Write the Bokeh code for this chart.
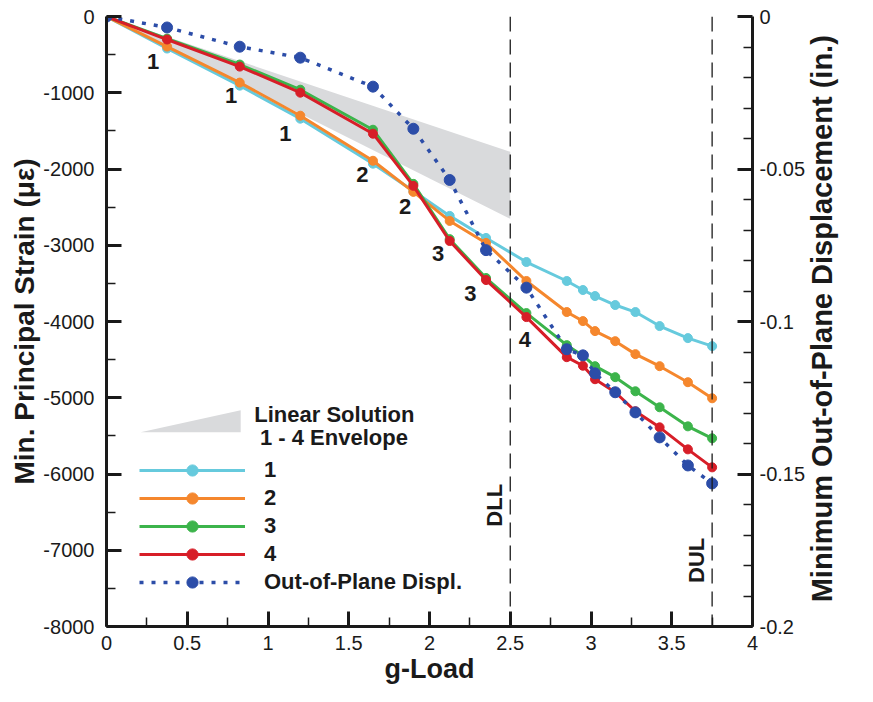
import numpy as np
from bokeh.plotting import figure
from bokeh.models import (Range1d, LinearAxis, FixedTicker, Span, Label, Legend,
                          LegendItem, ColumnDataSource)
from bokeh.embed import file_html
from bokeh.resources import INLINE
from bokeh.core.properties import value

# ---------------- data ----------------
g_load = [0, 0.375, 0.825, 1.2, 1.65, 1.9, 2.125, 2.35, 2.6, 2.85, 2.95, 3.025,
          3.15, 3.275, 3.425, 3.6, 3.75]
strain_1 = [0, -420, -907, -1340, -1930, -2290, -2615, -2904, -3220, -3469, -3587,
            -3666, -3784, -3876, -4060, -4218, -4323]
strain_2 = [0, -394, -867, -1301, -1892, -2300, -2681, -2970, -3469, -3876, -3995,
            -4126, -4258, -4428, -4586, -4796, -5007]
strain_3 = [0, -290, -630, -960, -1485, -2195, -2920, -3430, -3890, -4310, -4449,
            -4586, -4730, -4915, -5125, -5375, -5532]
strain_4 = [0, -302, -657, -999, -1537, -2221, -2944, -3456, -3942, -4468, -4580,
            -4757, -4928, -5177, -5388, -5677, -5913]
disp = [0, -0.0036, -0.0099, -0.0135, -0.0230, -0.0368, -0.0536, -0.0766, -0.0889,
        -0.1091, -0.1111, -0.1170, -0.1232, -0.1298, -0.1380, -0.1472, -0.1531]

env_g = [0, 2.5, 2.5]
env_strain = [0, -1774, -2654]

limit_g = [2.5, 3.75]
limit_names = ["DLL", "DUL"]
limit_label_strain = [-6410, -7133]

series_names = ["1", "2", "3", "4", "Out-of-Plane Displ."]
series_colors = ["#66CADD", "#F5872D", "#3CB44B", "#D71E28", "#2C4DA8"]

zone_text = ["1", "1", "1", "2", "2", "3", "3", "4"]
zone_g = [0.289, 0.771, 1.108, 1.584, 1.849, 2.054, 2.253, 2.59]
zone_strain = [-591, -1038, -1537, -2076, -2496, -3113, -3639, -4230]

x_ticks = [0, 0.5, 1, 1.5, 2, 2.5, 3, 3.5, 4]
x_tick_labels = ["0", "0.5", "1", "1.5", "2", "2.5", "3", "3.5", "4"]
y_ticks = [0, -1000, -2000, -3000, -4000, -5000, -6000, -7000, -8000]
y_tick_labels = ["0", "-1000", "-2000", "-3000", "-4000", "-5000", "-6000", "-7000", "-8000"]
d_ticks = [0, -0.05, -0.1, -0.15, -0.2]
d_tick_labels = ["0", "-0.05", "-0.1", "-0.15", "-0.2"]

right_title = "Minimum Out-of-Plane Displacement (in.)"

FONT = "Liberation Sans"
INK = "#1a1a1a"

# ---------------- figure ----------------
p = figure(width=857, height=686, x_range=Range1d(0, 4), y_range=Range1d(-8000, 0),
           output_backend="svg", toolbar_location=None,
           min_border_left=106, min_border_right=84, min_border_top=16,
           min_border_bottom=60)
p.extra_y_ranges = {"disp": Range1d(-0.2, 0)}
p.grid.visible = False
p.outline_line_color = None
p.background_fill_color = "white"
p.border_fill_color = "white"

right_axis = LinearAxis(y_range_name="disp")
p.add_layout(right_axis, "right")

def style_axis(ax, ticks, labels, minor, title, title_size):
    ax.ticker = FixedTicker(ticks=ticks, minor_ticks=list(minor))
    ax.major_label_overrides = {t: l for t, l in zip(ticks, labels)}
    ax.axis_line_width = 3
    ax.axis_line_color = INK
    ax.major_tick_line_width = 3
    ax.major_tick_line_color = INK
    ax.minor_tick_line_width = 1.5
    ax.minor_tick_line_color = INK
    ax.major_tick_in = 15
    ax.major_tick_out = 0
    ax.minor_tick_in = 9
    ax.minor_tick_out = 0
    ax.major_label_text_font = FONT
    ax.major_label_text_font_size = "20px"
    ax.major_label_text_color = INK
    ax.axis_label = title
    ax.axis_label_text_font = FONT
    ax.axis_label_text_font_style = "bold"
    ax.axis_label_text_font_size = title_size
    ax.axis_label_text_color = INK

style_axis(p.xaxis[0], x_ticks, x_tick_labels, np.arange(0, 4.01, 0.25), "g-Load", "27px")
style_axis(p.yaxis[0], y_ticks, y_tick_labels, np.arange(-8000, 1, 500),
           "Min. Principal Strain (με)", "28px")
# the right title reads bottom-to-top: anchored at the axis start and padded
style_axis(right_axis, d_ticks, d_tick_labels, np.arange(-0.2, 0.001, 0.01),
           "\u00a0" * 3 + right_title, "29px")
right_axis.axis_label_orientation = np.pi / 2
right_axis.axis_label_align = "start"
p.xaxis[0].major_label_standoff = 9
p.xaxis[0].axis_label_standoff = 1
p.yaxis[0].major_label_standoff = 12
p.yaxis[0].axis_label_standoff = 0
right_axis.major_label_standoff = 7
right_axis.axis_label_standoff = 14

# envelope
p.patch(env_g, env_strain, fill_color="#D9DADC", line_color=None)

# limit lines
for g in limit_g:
    p.add_layout(Span(location=g, dimension="height", line_color=INK,
                      line_width=1.3, line_dash="15 8"))

renderers = []
strains = [strain_1, strain_2, strain_3, strain_4]
for s, c in zip(strains, series_colors[:4]):
    ln = p.line(g_load, s, line_color=c, line_width=3)
    sc = p.scatter(g_load, s, size=9, fill_color=c, line_color=c)
    renderers.append([ln, sc])

bl = p.line(g_load, disp, y_range_name="disp", line_color=series_colors[4],
            line_width=3.5, line_dash="4 8")
bs = p.scatter(g_load, disp, y_range_name="disp", size=11,
               fill_color=series_colors[4], line_color=series_colors[4])
renderers.append([bl, bs])

# zone labels
zsrc = ColumnDataSource(dict(x=zone_g, y=zone_strain, t=zone_text))
p.text(x="x", y="y", text="t", source=zsrc, text_font=value(FONT),
       text_font_style="bold", text_font_size="22px", text_color=INK,
       text_align="center", text_baseline="middle")

# DLL / DUL labels
for g, name, yy in zip(limit_g, limit_names, limit_label_strain):
    p.add_layout(Label(x=g, y=yy, x_offset=-16, text=name, angle=np.pi / 2,
                       text_align="center", text_baseline="middle",
                       text_font=FONT, text_font_style="bold",
                       text_font_size="22px", text_color=INK))

# legend: envelope sample
p.patch([0.211, 0.831, 0.831], [-5452, -5163, -5452], fill_color="#D9DADC",
        line_color=None)
p.add_layout(Label(x=0.915, y=-5215, text="Linear Solution", text_baseline="middle",
                   text_font=FONT, text_font_style="bold", text_font_size="22px",
                   text_color=INK))
p.add_layout(Label(x=0.95, y=-5517, text="1 - 4 Envelope", text_baseline="middle",
                   text_font=FONT, text_font_style="bold", text_font_size="22px",
                   text_color=INK))

legend = Legend(items=[LegendItem(label=n, renderers=r) for n, r in zip(series_names, renderers)],
                location=(33, 30), padding=0, margin=0, spacing=0,
                glyph_width=106, glyph_height=28, label_height=28, label_standoff=19,
                label_text_font=FONT, label_text_font_style="bold",
                label_text_font_size="22px", label_text_color=INK,
                background_fill_alpha=0, border_line_color=None)
p.add_layout(legend, "center")

open("out.html", "w").write(file_html(p, INLINE))
